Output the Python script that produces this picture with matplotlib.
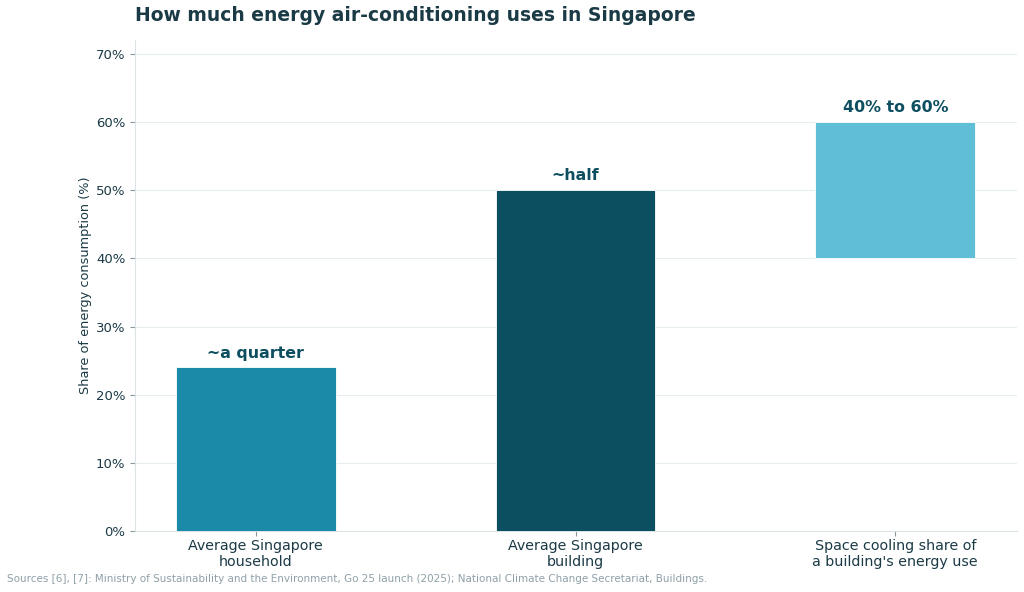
import numpy as np
import matplotlib.pyplot as plt
from matplotlib.ticker import PercentFormatter

categories = ["Average Singapore\nhousehold", "Average Singapore\nbuilding",
              "Space cooling share of\na building's energy use"]
lows = [0, 0, 40]
highs = [24, 50, 60]
labels = ["~a quarter", "~half", "40% to 60%"]
colors = ["#1B8AA8", "#0B4F60", "#60BED6"]

dark = "#1a3a45"

fig = plt.figure(figsize=(10.24, 5.92), dpi=100)
ax = fig.add_axes([0.132, 0.103, 0.861, 0.829])

x = np.arange(len(categories))
heights = np.array(highs) - np.array(lows)
ax.bar(x, heights, bottom=lows, width=0.5, color=colors, edgecolor="white", linewidth=0.6, zorder=3)

for xi, top, lab in zip(x, highs, labels):
    ax.text(xi, top + 1.0, lab, ha="center", va="bottom", fontsize=11.4,
            fontweight="bold", color="#0d4f60")

ax.set_xlim(-0.377, 2.38)
ax.set_ylim(0, 72)
ax.set_yticks(np.arange(0, 71, 10))
ax.yaxis.set_major_formatter(PercentFormatter(decimals=0))
ax.set_xticks(x)
ax.set_xticklabels(categories, fontsize=10.3, color=dark)
ax.tick_params(axis="y", labelsize=9.5, labelcolor=dark)
ax.tick_params(axis="x", pad=2)
ax.tick_params(axis="both", color="#8a979c", length=3.5)
ax.set_ylabel("Share of energy consumption (%)", fontsize=9.3, color=dark, labelpad=3)

ax.yaxis.grid(True, color="#e8eef0", linewidth=0.8, zorder=0)
ax.set_axisbelow(True)
for s in ["top", "right"]:
    ax.spines[s].set_visible(False)
for s in ["left", "bottom"]:
    ax.spines[s].set_color("#dbe3e6")

fig.text(0.132, 0.973, "How much energy air-conditioning uses in Singapore",
         fontsize=13.5, fontweight="bold", color=dark, ha="left", va="center")
fig.text(0.007, 0.022, "Sources [6], [7]: Ministry of Sustainability and the Environment, Go 25 launch (2025); "
         "National Climate Change Secretariat, Buildings.", fontsize=7.45, color="#8fa0a8",
         ha="left", va="center")

fig.savefig("out.png", dpi=100)
